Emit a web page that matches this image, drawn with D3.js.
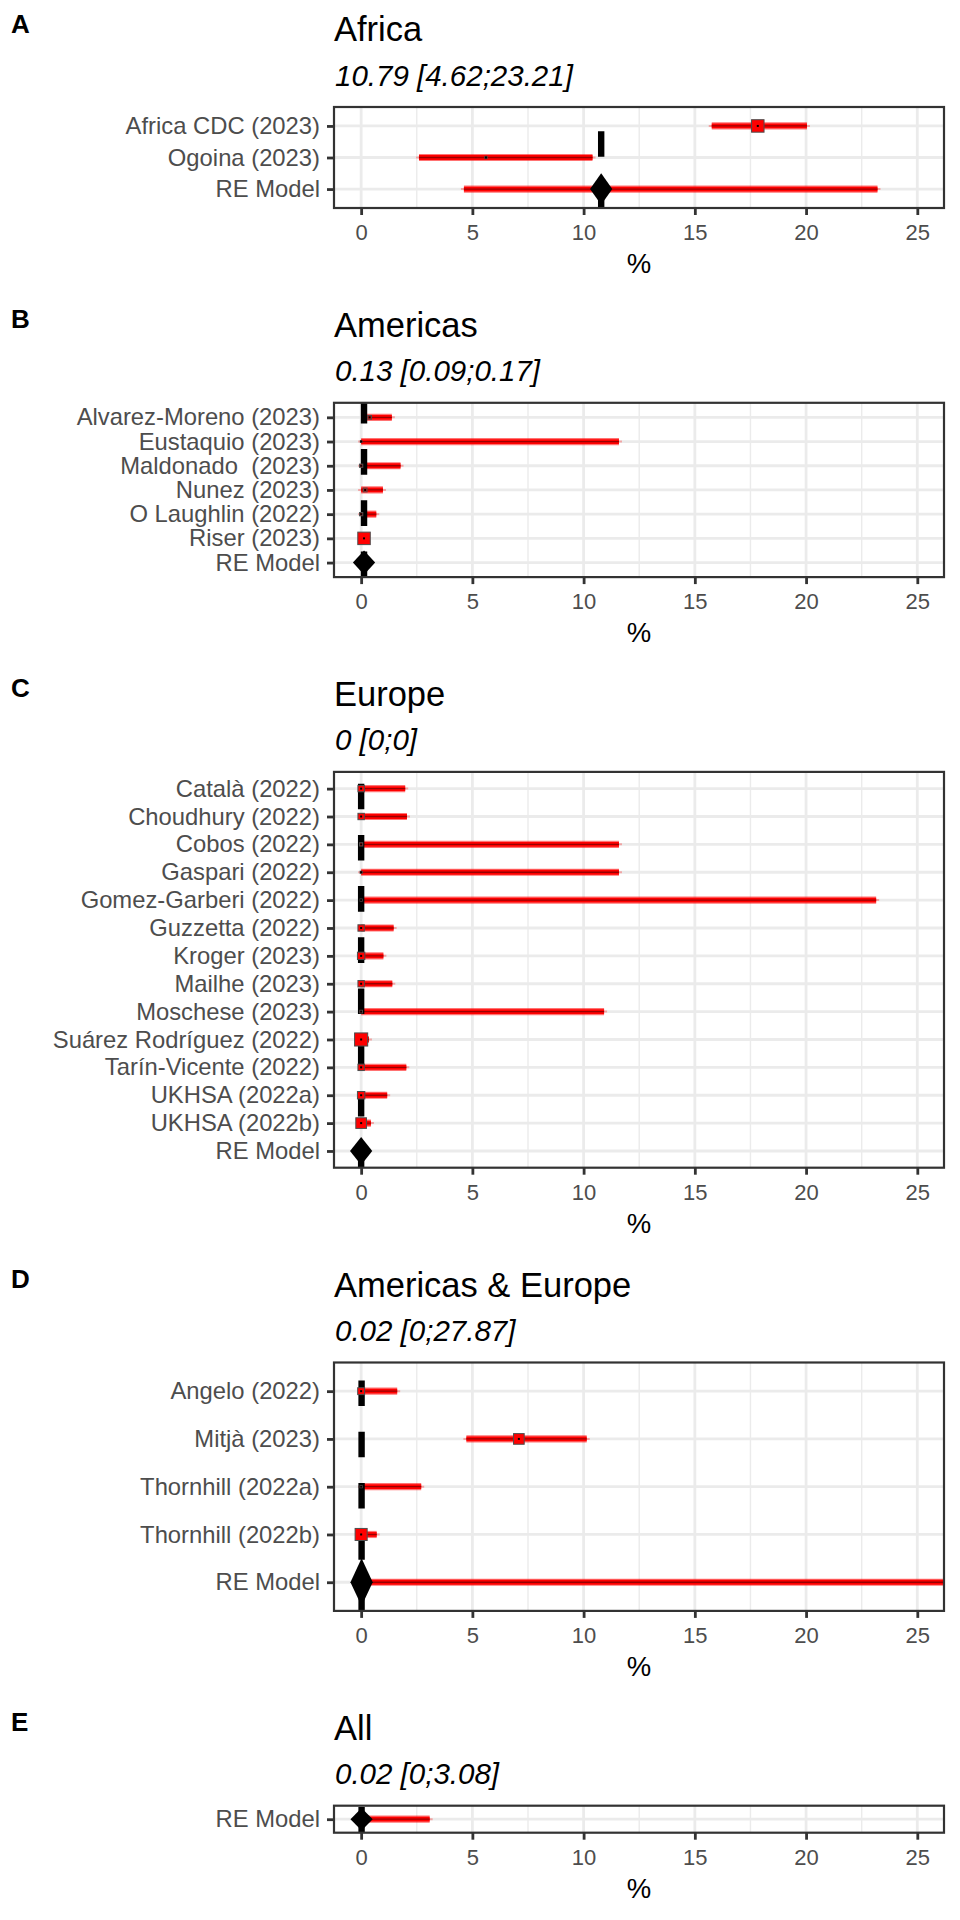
<!DOCTYPE html>
<html>
<head>
<meta charset="utf-8">
<script src="https://cdn.jsdelivr.net/npm/d3@7"></script>
<style>
	body { margin: 0; background: #fff; }
	svg { display: block; font-family: "Liberation Sans", Arial, Helvetica, sans-serif; }
</style>
</head>
<body>
<svg id="forest-plot" width="960" height="1920" viewBox="0 0 960 1920"></svg>
<script>

// pooled (random effects) results, one per panel
const regions = ["Africa", "Americas", "Europe", "Americas & Europe", "All"];
const tags = ["A", "B", "C", "D", "E"];
const pooled_est = [10.79, 0.13, 0, 0.02, 0.02];
const pooled_lo = [4.62, 0.09, 0, 0, 0];
const pooled_hi = [23.21, 0.17, 0, 27.87, 3.08];

// single studies
const study_region = [
	"Africa", "Africa",
	"Americas", "Americas", "Americas", "Americas", "Americas", "Americas",
	"Europe", "Europe", "Europe", "Europe", "Europe", "Europe", "Europe",
	"Europe", "Europe", "Europe", "Europe", "Europe", "Europe",
	"Americas & Europe", "Americas & Europe", "Americas & Europe", "Americas & Europe"
];
const study_names = [
	"Africa CDC (2023)", "Ogoina (2023)",
	"Alvarez-Moreno (2023)", "Eustaquio (2023)", "Maldonado  (2023)", "Nunez (2023)", "O Laughlin (2022)", "Riser (2023)",
	"Català (2022)", "Choudhury (2022)", "Cobos (2022)", "Gaspari (2022)", "Gomez-Garberi (2022)", "Guzzetta (2022)", "Kroger (2023)",
	"Mailhe (2023)", "Moschese (2023)", "Suárez Rodríguez (2022)", "Tarín-Vicente (2022)", "UKHSA (2022a)", "UKHSA (2022b)",
	"Angelo (2022)", "Mitjà (2023)", "Thornhill (2022a)", "Thornhill (2022b)"
];
const study_est = [
	17.83, 5.61,
	0.38, 0, 0, 0.18, 0, 0.13,
	0, 0, 0, 0, 0, 0, 0,
	0, 0, 0, 0, 0, 0,
	0, 7.09, 0, 0
];
const study_lo = [
	15.76, 2.6,
	0.15, 0, 0, 0, 0, 0.08,
	0, 0, 0, 0, 0, 0, 0,
	0, 0, 0, 0, 0, 0,
	0, 4.73, 0, 0
];
const study_hi = [
	20.04, 10.4,
	1.38, 11.59, 1.77, 0.98, 0.68, 0.2,
	1.98, 2.06, 11.59, 11.59, 23.15, 1.46, 1.0,
	1.4, 10.92, 0.35, 2.03, 1.17, 0.44,
	1.62, 10.14, 2.7, 0.7
];
const study_weight = [
	88, 3,
	8, 1.5, 6, 8, 6, 88,
	23, 23, 6, 2.5, 2.5, 23, 31,
	23, 4, 97, 23, 31, 64,
	27, 64, 2.5, 82
];

const x_ticks = [0, 5, 10, 15, 20, 25];
const x_minor = [2.5, 7.5, 12.5, 17.5, 22.5];

// layout
const panel_left = 334, panel_right = 944;
const first_top = 107, panel_gap = 194.8;
const panel_heights = [101, 174.3, 395.8, 248.4, 27];

const svg = d3.select('#forest-plot');

const x = d3.scaleLinear()
	.domain([-1.22, 26.2])
	.range([panel_left, panel_right]);

// square side ~ sqrt(weight)
const size = d3.scaleSqrt()
	.domain([0, 100])
	.range([0, 13.3]);

let panel_top = first_top;

regions.forEach((region, i) => {
	const top = panel_top;
	const bottom = top + panel_heights[i];

	const studies = study_names
		.map((name, j) => ({
			name: name, region: study_region[j],
			est: study_est[j], lo: study_lo[j], hi: study_hi[j], w: study_weight[j]
		}))
		.filter((d) => d.region === region);
	const pooled = { name: "RE Model", est: pooled_est[i], lo: pooled_lo[i], hi: pooled_hi[i] };
	const all_rows = studies.concat([pooled]);

	// ggplot style discrete axis: 0.6 step of padding on both ends
	const y = d3.scalePoint()
		.domain(all_rows.map((d) => d.name))
		.range([top, bottom])
		.padding(0.6);

	const g = svg.append('g');

	// tag, title, subtitle
	g.append('text')
		.attr('x', 11).attr('y', top - 74.5)
		.style('font-size', '26px').style('font-weight', 'bold')
		.text(tags[i]);
	g.append('text')
		.attr('x', panel_left).attr('y', top - 66)
		.style('font-size', '34.5px')
		.text(region);
	g.append('text')
		.attr('x', panel_left + 1).attr('y', top - 21.5)
		.style('font-size', '29.5px').style('font-style', 'italic')
		.text(`${pooled.est} [${pooled.lo};${pooled.hi}]`);

	// panel background + grid
	g.append('rect')
		.attr('x', panel_left).attr('y', top)
		.attr('width', panel_right - panel_left).attr('height', bottom - top)
		.attr('fill', 'white');

	g.selectAll('.minor')
		.data(x_minor)
		.enter()
		.append('line')
		.attr('x1', (d) => x(d)).attr('x2', (d) => x(d))
		.attr('y1', top).attr('y2', bottom)
		.style('stroke', '#EBEBEB').style('stroke-width', 1.4);

	g.selectAll('.major')
		.data(x_ticks)
		.enter()
		.append('line')
		.attr('x1', (d) => x(d)).attr('x2', (d) => x(d))
		.attr('y1', top).attr('y2', bottom)
		.style('stroke', '#EBEBEB').style('stroke-width', 2.8);

	g.selectAll('.hgrid')
		.data(all_rows)
		.enter()
		.append('line')
		.attr('x1', panel_left).attr('x2', panel_right)
		.attr('y1', (d) => y(d.name)).attr('y2', (d) => y(d.name))
		.style('stroke', '#EBEBEB').style('stroke-width', 2.8);

	// marks are clipped to the panel
	const clip_id = 'clip-' + i;
	g.append('clipPath')
		.attr('id', clip_id)
		.append('rect')
		.attr('x', panel_left).attr('y', top)
		.attr('width', panel_right - panel_left).attr('height', bottom - top);

	const marks = g.append('g').attr('clip-path', `url(#${clip_id})`);

	// confidence intervals
	const ci = marks.selectAll('.ci')
		.data(all_rows)
		.enter()
		.append('g')
		.classed('ci', true);

	ci.append('line')
		.attr('x1', (d) => x(d.lo) - 3).attr('x2', (d) => x(d.hi) + 3)
		.attr('y1', (d) => y(d.name)).attr('y2', (d) => y(d.name))
		.style('stroke', '#FF0000').style('stroke-opacity', 0.3).style('stroke-width', 2);
	ci.append('line')
		.attr('x1', (d) => x(d.lo)).attr('x2', (d) => x(d.hi))
		.attr('y1', (d) => y(d.name)).attr('y2', (d) => y(d.name))
		.style('stroke', '#FF0000').style('stroke-opacity', 0.55).style('stroke-width', 7.2);
	ci.append('line')
		.attr('x1', (d) => x(d.lo)).attr('x2', (d) => x(d.hi))
		.attr('y1', (d) => y(d.name)).attr('y2', (d) => y(d.name))
		.style('stroke', '#FF0000').style('stroke-width', 4.8);
	ci.append('line')
		.attr('x1', (d) => x(d.lo)).attr('x2', (d) => x(d.hi))
		.attr('y1', (d) => y(d.name)).attr('y2', (d) => y(d.name))
		.style('stroke', '#9A0000').style('stroke-width', 1.3);

	// dashed line at the pooled estimate, dashes start at the bottom
	marks.append('line')
		.attr('x1', x(pooled.est)).attr('x2', x(pooled.est))
		.attr('y1', bottom).attr('y2', top)
		.style('stroke', 'black').style('stroke-width', 6.4)
		.style('stroke-dasharray', '25.6,25.6');

	// study point estimates
	const pts = marks.selectAll('.pt')
		.data(studies)
		.enter()
		.append('g')
		.classed('pt', true);

	pts.append('rect')
		.attr('x', (d) => x(d.est) - size(d.w) / 2)
		.attr('y', (d) => y(d.name) - size(d.w) / 2)
		.attr('width', (d) => size(d.w)).attr('height', (d) => size(d.w))
		.style('fill', '#FF0000').style('stroke', '#4D4D4D').style('stroke-width', 1);
	pts.append('rect')
		.attr('x', (d) => x(d.est) - 1).attr('y', (d) => y(d.name) - 1)
		.attr('width', 2).attr('height', 2)
		.style('fill', 'black');

	// pooled diamond
	const step = y.step();
	marks.append('polygon')
		.attr('points', [
			[x(pooled.est - 0.5), y(pooled.name)],
			[x(pooled.est), y(pooled.name) - step / 2],
			[x(pooled.est + 0.5), y(pooled.name)],
			[x(pooled.est), y(pooled.name) + step / 2]
		].map((p) => p.join(',')).join(' '))
		.style('fill', 'black');

	// border
	g.append('rect')
		.attr('x', panel_left).attr('y', top)
		.attr('width', panel_right - panel_left).attr('height', bottom - top)
		.attr('fill', 'none')
		.style('stroke', '#333333').style('stroke-width', 2.2);

	// axes
	const x_axis = g.append('g')
		.attr('transform', `translate(0,${bottom})`)
		.call(d3.axisBottom(x).tickValues(x_ticks).tickSize(7).tickPadding(9.6));
	const y_axis = g.append('g')
		.attr('transform', `translate(${panel_left},0)`)
		.call(d3.axisLeft(y).tickSize(7).tickPadding(7));

	[x_axis, y_axis].forEach((ax) => {
		ax.select('.domain').remove();
		ax.selectAll('.tick line').style('stroke', '#333333').style('stroke-width', 2.8);
		ax.selectAll('.tick text')
			.style('fill', '#4D4D4D')
			.style('font-family', '"Liberation Sans", Arial, sans-serif')
			.style('white-space', 'pre');
	});
	x_axis.selectAll('.tick text').style('font-size', '22px');
	y_axis.selectAll('.tick text').style('font-size', '23.8px');

	g.append('text')
		.attr('x', (panel_left + panel_right) / 2).attr('y', bottom + 65)
		.attr('text-anchor', 'middle')
		.style('font-size', '27.5px')
		.text('%');

	panel_top = bottom + panel_gap;
});

</script>
</body>
</html>
